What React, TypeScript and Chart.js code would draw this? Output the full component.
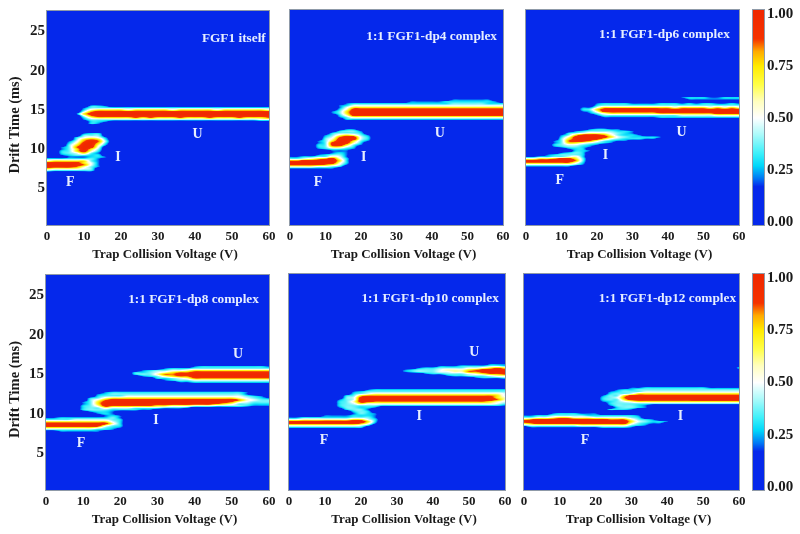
import React, { useEffect, useRef } from "react";
import { Chart, registerables } from "chart.js";

Chart.register(...registerables);

const voltages = [0,2,4,6,8,10,12,14,16,18,20,22,24,26,28,30,32,34,36,38,40,42,44,46,48,50,52,54,56,58,60];
const driftRows = [6.75,7,7.25,7.5,7.75,8,8.25,8.5,8.75,9,9.25,9.5,9.75,10,10.25,10.5,10.75,11,11.25,11.5,11.75,12,12.25,12.5,12.75,13,13.25,13.5,13.75,14,14.25,14.5,14.75,15,15.25,15.5,15.75,16,16.25,16.5,16.75];
const driftTicks = [5,10,15,20,25];
const voltageTicks = [0,10,20,30,40,50,60];
const barTicks = [0,0.25,0.5,0.75,1];
const barLevels = [0,0.17,0.21,0.27,0.33,0.42,0.5,0.58,0.66,0.75,0.82,0.88,1];
const barColors = [[5,40,235],[5,40,235],[0,120,245],[0,215,250],[60,240,250],[170,250,250],[255,255,255],[255,255,190],[255,255,70],[255,235,0],[255,170,0],[245,50,0],[240,40,0]];
// Each digit in the rows below stands for one of these intensities.
const digitLevels = [0,0.2,0.29,0.37,0.47,0.58,0.72,0.84,0.95,1];

// Intensity read per cell, columns = voltages, keyed by drift time.
const fgf1Rows: Record<number,string> = {
  15.5:"00000 02210",
  15.25:"00000 13333 33333 33333 33333 33333 3",
  15:"00000 25666 65666 66566 66656 66666 5",
  14.75:"00000 47888 88888 88888 88888 88888 8",
  14.5:"00001 68999 99999 99999 99999 99999 9",
  14.25:"00000 47888 88888 88888 88888 88888 8",
  14:"00000 25666 66767 66676 66766 67666 7",
  13.75:"00000 13333 33333 33333 33333 33334 4",
  13.5:"00000 02210",
  13.25:"00000 0210",
  12:"00000 1220",
  11.75:"00000 3330",
  11.5:"00002 45410",
  11.25:"00003 67620",
  11:"00014 79730",
  10.75:"00025 89620",
  10.5:"00036 99510",
  10.25:"00137 98400",
  10:"00136 96300",
  9.75:"00236 85200",
  9.5:"00234 63100",
  9.25:"00123 32200",
  9:"00011 12210",
  8.75:"33333 33100",
  8.5:"56666 63100",
  8.25:"88888 64100",
  8:"99998 74100",
  7.75:"88887 53100",
  7.5:"65555 43000",
  7.25:"32222 22000",
};
const dp4Rows: Record<number,string> = {
  16.25:"00000 00000 00000 00000 00011 11110",
  16:"00000 00000 00000 00111 11222 22221 0",
  15.75:"00000 00012 22222 22222 22233 33322 2",
  15.5:"00000 00124 44444 44444 44444 44444 4",
  15.25:"00000 00146 66666 66666 66666 66666 6",
  15:"00000 00258 88888 88888 88888 88888 8",
  14.75:"00000 01369 99999 99999 99999 99999 9",
  14.5:"00000 01369 99999 99999 99999 99999 9",
  14.25:"00000 00258 88888 88888 88888 88888 8",
  14:"00000 00135 55555 55555 55555 55555 5",
  13.75:"00000 00022 22222 22222 22222 22222 2",
  12.5:"00000 00011",
  12.25:"00000 00233 1",
  12:"00000 02333 2",
  11.75:"00000 13565 31",
  11.5:"00000 24788 42",
  11.25:"00000 35899 42",
  11:"00001 36996 31",
  10.75:"00001 38985 2",
  10.5:"00002 38963 1",
  10.25:"00002 36642",
  10:"00001 23321",
  9.75:"00000 01110",
  9.5:"00000 01210",
  9.25:"00001 23310",
  9:"11223 35410",
  8.75:"33456 78520",
  8.5:"77889 99620",
  8.25:"99999 99520",
  8:"88888 76410",
  7.75:"55554 43200",
  7.5:"11111 11000",
};
const dp6Rows: Record<number,string> = {
  16.5:"00000 00000 00000 00000 00122 21122 2",
  16.25:"00000 00000 00000 00000 00011 11111 1",
  15.75:"00000 00000 12222 11112 22121 22112 1",
  15.5:"00000 00000 23333 33333 33333 33333 3",
  15.25:"00000 00011 46666 66666 65666 65656 5",
  15:"00000 00023 68999 99998 88888 88888 8",
  14.75:"00000 00012 58888 88889 99999 99999 9",
  14.5:"00000 00001 35666 66667 77777 77888 8",
  14.25:"00000 00000 13333 33333 33444 44555 5",
  14:"00000 00000 01111 11112 22222 22222 2",
  12.5:"00000 00001 2211",
  12.25:"00000 00123 33322 1",
  12:"00000 02345 55432 1",
  11.75:"00000 13688 87532 21",
  11.5:"00000 25899 98643 22221",
  11.25:"00000 36899 86432 2211",
  11:"00001 37887 53211",
  10.75:"00001 36654 321",
  10.5:"00002 34432 1",
  10.25:"00001 23321",
  10:"00000 01220",
  9.75:"00000 00221",
  9.5:"00000 12320",
  9.25:"00012 33320",
  9:"11223 34520",
  8.75:"55667 88630",
  8.5:"99999 99730",
  8.25:"77777 77520",
  8:"44444 44310",
  7.75:"11111 11000",
};
const dp8Rows: Record<number,string> = {
  16:"00000 00000 00000 00000 12222 22222 1",
  15.75:"00000 00000 00000 01222 33333 33333 3",
  15.5:"00000 00000 00012 33445 66666 66666 6",
  15.25:"00000 00000 00223 45677 88888 88888 8",
  15:"00000 00000 00233 57788 99999 99999 9",
  14.75:"00000 00000 00012 35677 99999 99999 9",
  14.5:"00000 00000 00000 22345 77777 77777 7",
  14.25:"00000 00000 00000 01233 44444 44444 4",
  14:"00000 00000 00000 00011 22222 22222 2",
  12.75:"00000 00012 22222 22222 22222 221",
  12.5:"00000 00123 33333 33333 33333 33100",
  12.25:"00000 00233 34444 44444 44444 44321",
  12:"00000 02356 66666 66666 66666 65432 1",
  11.75:"00000 03578 88888 88889 99999 97543 3",
  11.5:"00000 13689 99999 99999 99998 75433 3",
  11.25:"00000 13699 99998 88888 88876 53322 2",
  11:"00000 23587 77777 66555 44433 33211 1",
  10.75:"00000 23354 44333 32221",
  10.5:"00000 23332 22211",
  10.25:"00000 01221",
  10:"00000 00121",
  9.75:"00000 00012 1",
  9.5:"11222 22223 1",
  9.25:"33334 44443 2",
  9:"66666 66664 2",
  8.75:"99999 99985 2",
  8.5:"99999 99953 2",
  8.25:"66666 66532 1",
  8:"33333 33221",
  7.75:"00111 11100",
};
const dp10Rows: Record<number,string> = {
  16.25:"00000 00000 00000 00000 00000 00011 1",
  16:"00000 00000 00000 00000 01112 22233 2",
  15.75:"00000 00000 00000 00012 23333 44567 6",
  15.5:"00000 00000 00000 01233 34555 67899 8",
  15.25:"00000 00000 00000 01233 34455 77899 9",
  15:"00000 00000 00000 00001 22333 45677 8",
  14.75:"00000 00000 00000 00000 00122 33345 5",
  14.5:"00000 00000 00000 00000 00000 01222 3",
  13:"00000 00000 01222 22222 22222 22222 2",
  12.75:"00000 00001 23333 33333 33333 33333 3",
  12.5:"00000 00002 34555 55555 55555 55555 4",
  12.25:"00000 00023 67777 77777 77777 77776 4",
  12:"00000 00034 89999 99999 99999 99986 5",
  11.75:"00000 00134 99999 99999 99999 99997 5",
  11.5:"00000 00235 88777 77777 77777 77765 4",
  11.25:"00000 00234 65555 55555 55555 55554 3",
  11:"00000 00233 33322 22222 22222 22222 1",
  10.75:"00000 00133 22100",
  10.5:"00000 00023 31",
  10.25:"00000 00002 32",
  10:"00000 00001 321",
  9.75:"00000 11112 221",
  9.5:"11222 22223 331",
  9.25:"44555 55556 642",
  9:"88888 99999 962",
  8.75:"88888 88888 751",
  8.5:"55555 55555 42",
  8.25:"22222 22222 2",
};
const dp12Rows: Record<number,string> = {
  15.75:"00000 00000 00000 00000 00000 00000 2",
  13.25:"00000 00000 00000 11222 22222 21111 1",
  13:"00000 00000 00012 23333 33333 33333 3",
  12.75:"00000 00000 00123 33444 44444 44444 4",
  12.5:"00000 00000 00233 46666 66666 66666 6",
  12.25:"00000 00000 01336 88888 88888 88888 8",
  12:"00000 00000 02347 99999 99999 99999 9",
  11.75:"00000 00000 02336 88888 88889 99999 9",
  11.5:"00000 00000 01234 56666 66666 66666 6",
  11.25:"00000 00000 00233 33333 33333 33333 3",
  11:"00000 00000 00133 32100",
  10.75:"00000 00000 00023 32100",
  10.5:"00000 00000 00222 1",
  10:"00001 22211 1",
  9.75:"11223 33332 22222 21",
  9.5:"33445 66555 44444 32",
  9.25:"67889 99988 88777 5321",
  9:"89999 99999 99999 64322 1",
  8.75:"67888 88888 88888 53211",
  8.5:"34444 44455 55555 321",
  8.25:"01111 11111 12222 1",
};

const panelTitles = ["FGF1 itself","1:1 FGF1-dp4 complex","1:1 FGF1-dp6 complex","1:1 FGF1-dp8 complex","1:1 FGF1-dp10 complex","1:1 FGF1-dp12 complex"];
const panelRows = [fgf1Rows,dp4Rows,dp6Rows,dp8Rows,dp10Rows,dp12Rows];
// [text, voltage, drift]
const panelLabels: [string,number,number][][] = [
  [["FGF1 itself",50.5,24.1],["F",6.3,5.75],["I",19.2,8.9],["U",40.7,11.9]],
  [["1:1 FGF1-dp4 complex",39.9,24.25],["F",7.9,5.75],["I",20.8,8.9],["U",42.2,11.9]],
  [["1:1 FGF1-dp6 complex",39.0,24.45],["F",9.5,6.05],["I",22.4,9.2],["U",43.8,12.1]],
  [["1:1 FGF1-dp8 complex",39.7,24.45],["F",9.4,6.26],["I",29.6,9.2],["U",51.7,17.55]],
  [["1:1 FGF1-dp10 complex",39.2,24.5],["F",9.7,6.6],["I",36.2,9.65],["U",51.5,17.77]],
  [["1:1 FGF1-dp12 complex",40.0,24.5],["F",17,6.6],["I",43.7,9.65]],
];

const SERIF = '"Liberation Serif", serif';
const INK = "#1a1a1a";
const EDGE = "#8f9aa8";

type Box = { left:number; top:number; width:number; height:number; yAxis:boolean };
const panelBoxes: Box[] = [
  { left:47, top:10, width:222, height:215, yAxis:true },
  { left:282, top:10, width:221, height:215, yAxis:false },
  { left:518, top:10, width:221, height:215, yAxis:false },
  { left:46, top:274, width:223, height:216, yAxis:true },
  { left:281, top:274, width:224, height:216, yAxis:false },
  { left:516, top:274, width:223, height:216, yAxis:false },
];
const barBoxes = [
  { left:753, top:10, width:11, height:215 },
  { left:753, top:274, width:11, height:216 },
];

function colorAt(v:number):number[] {
  const t = Math.max(0, Math.min(1, v));
  for (let i = 1; i < barLevels.length; i++) {
    if (t <= barLevels[i]) {
      const f = (t - barLevels[i-1]) / (barLevels[i] - barLevels[i-1] || 1);
      const a = barColors[i-1], b = barColors[i];
      return [a[0]+(b[0]-a[0])*f, a[1]+(b[1]-a[1])*f, a[2]+(b[2]-a[2])*f];
    }
  }
  return barColors[barColors.length-1];
}

function cellsFor(rows:Record<number,string>) {
  const cells:{x:number;y:number;v:number}[] = [];
  driftRows.forEach((d) => {
    const row = (rows[d] || "").replace(/ /g,"").padEnd(voltages.length,"0");
    voltages.forEach((x,i) => cells.push({ x, y:d, v:digitLevels[Number(row[i])] }));
  });
  return cells;
}

function cubic(a:number,b:number,c:number,d:number,t:number) {
  return b + 0.5*t*(c-a + t*(2*a-5*b+4*c-d + t*(3*(b-c)+d-a)));
}

const heatPlugin = {
  id:"heat",
  beforeDatasetsDraw(chart:any) {
    const { ctx, chartArea:a, scales } = chart;
    const w = Math.round(a.right-a.left), h = Math.round(a.bottom-a.top);
    const off = document.createElement("canvas");
    off.width = w; off.height = h;
    const octx = off.getContext("2d")!;
    const img = octx.createImageData(w,h);
    const cells = chart.data.datasets[0].data;
    const nx = voltages.length, ny = driftRows.length;
    const dx = voltages[1]-voltages[0], dy = driftRows[1]-driftRows[0];
    const at = (i:number,j:number) => {
      if (j < 0 || j >= ny) return 0;
      const c = Math.max(0,Math.min(nx-1,i));
      return cells[j*nx+c].v;
    };
    for (let py=0; py<h; py++) {
      const dv = scales.y.getValueForPixel(a.top+py+0.5);
      const fy = (dv-driftRows[0])/dy; const j = Math.floor(fy); const ty = fy-j;
      for (let px=0; px<w; px++) {
        const vv = scales.x.getValueForPixel(a.left+px+0.5);
        const fx = (vv-voltages[0])/dx; const i = Math.floor(fx); const tx = fx-i;
        const col = (n:number) => cubic(at(i-1,n),at(i,n),at(i+1,n),at(i+2,n),tx);
        const v = cubic(col(j-1),col(j),col(j+1),col(j+2),ty);
        const c = colorAt(v); const k=(py*w+px)*4;
        img.data[k]=c[0]; img.data[k+1]=c[1]; img.data[k+2]=c[2]; img.data[k+3]=255;
      }
    }
    octx.putImageData(img,0,0);
    ctx.save();
    ctx.beginPath(); ctx.rect(a.left,a.top,w,h); ctx.clip();
    ctx.fillStyle = "rgb(5,40,235)"; ctx.fillRect(a.left,a.top,w,h);
    ctx.filter = "blur(0.6px)";
    ctx.drawImage(off,a.left,a.top);
    ctx.restore();
  },
  afterDatasetsDraw(chart:any) {
    const { ctx, chartArea:a, scales } = chart;
    ctx.save();
    ctx.strokeStyle = EDGE; ctx.lineWidth = 1;
    ctx.strokeRect(a.left-0.5,a.top-0.5,a.right-a.left+1,a.bottom-a.top+1);
    ctx.textAlign = "center"; ctx.textBaseline = "middle";
    ctx.fillStyle = "#e6eeff";
    const labels = chart.options.plugins.heat.labels as [string,number,number][];
    labels.forEach(([t,x,y]) => {
      ctx.font = t.length>1 ? `bold 13.3px ${SERIF}` : `bold 14px ${SERIF}`;
      ctx.fillText(t, scales.x.getPixelForValue(x), scales.y.getPixelForValue(y));
    });
    ctx.restore();
  },
};

const barPlugin = {
  id:"colorbar",
  beforeDatasetsDraw(chart:any) {
    const { ctx, chartArea:a, scales } = chart;
    for (let py=Math.round(a.top); py<Math.round(a.bottom); py++) {
      const c = colorAt(scales.y.getValueForPixel(py+0.5));
      ctx.fillStyle = `rgb(${c[0]},${c[1]},${c[2]})`;
      ctx.fillRect(a.left,py,a.right-a.left,1);
    }
    ctx.strokeStyle = EDGE; ctx.lineWidth = 1;
    ctx.strokeRect(a.left-0.5,a.top-0.5,a.right-a.left+1,a.bottom-a.top+1);
  },
};

function shiftTitle(ax:any, dx:number, dy:number) {
  if (ax.$shifted) return;
  ax.$shifted = true;
  const draw = ax.drawTitle;
  ax.drawTitle = function () {
    this.ctx.save();
    this.ctx.translate(dx,dy);
    draw.call(this);
    this.ctx.restore();
  };
}

function App() {
  const holder = useRef<HTMLDivElement>(null);
  useEffect(() => {
    const charts:Chart[] = [];
    const host = holder.current!;
    panelBoxes.forEach((b,idx) => {
      const marginLeft = b.yAxis ? b.left : 8;
      const axisH = 44;
      const canvas = document.createElement("canvas");
      const top = b.top < 100 ? 0 : 264;
      const marginTop = b.top-top;
      canvas.width = marginLeft+b.width+14;
      canvas.height = marginTop+b.height+axisH;
      canvas.style.cssText = `position:absolute;display:block;left:${b.left-marginLeft}px;top:${top}px;width:${canvas.width}px;height:${canvas.height}px`;
      host.appendChild(canvas);
      charts.push(new Chart(canvas,{
        type:"scatter",
        data:{ datasets:[{ label:panelTitles[idx], data:cellsFor(panelRows[idx]) as any, pointRadius:0, pointHitRadius:0 }] },
        plugins:[heatPlugin],
        options:{
          responsive:false, animation:false, events:[],
          layout:{ autoPadding:false, padding:{ left:b.yAxis?0:marginLeft, top:marginTop, right:14, bottom:0 } },
          plugins:{ legend:{display:false}, tooltip:{enabled:false}, heat:{ labels:panelLabels[idx] } } as any,
          scales:{
            x:{
              type:"linear", min:0, max:60,
              afterBuildTicks:(ax:any)=>{ ax.ticks = voltageTicks.map(value=>({value})); },
              afterFit:(ax:any)=>{ ax.height = axisH; shiftTitle(ax,7,-7); },
              grid:{display:false,drawTicks:false}, border:{display:false},
              ticks:{ color:INK, padding:4, maxRotation:0, autoSkip:false, font:{family:SERIF,weight:"bold",size:13} },
              title:{ display:true, text:"Trap Collision Voltage (V)", color:INK, padding:{top:8,bottom:0}, font:{family:SERIF,weight:"bold",size:13} },
            },
            y:{
              type:"linear", min:0.35, max:27.6, display:b.yAxis,
              afterBuildTicks:(ax:any)=>{ ax.ticks = driftTicks.map(value=>({value})); },
              afterFit:(ax:any)=>{ ax.width = marginLeft; shiftTitle(ax,1,7); },
              grid:{display:false,drawTicks:false}, border:{display:false},
              ticks:{ color:INK, padding:2, font:{family:SERIF,weight:"bold",size:15} },
              title:{ display:true, text:"Drift Time (ms)", color:INK, padding:{top:6,bottom:0}, font:{family:SERIF,weight:"bold",size:14.5} },
            },
          },
        } as any,
      }));
    });
    barBoxes.forEach((b) => {
      const canvas = document.createElement("canvas");
      const margin = 14; const rightW = 34;
      canvas.width = 4+b.width+rightW;
      canvas.height = b.height+margin*2;
      canvas.style.cssText = `position:absolute;display:block;left:${b.left-4}px;top:${b.top-margin}px;width:${canvas.width}px;height:${canvas.height}px`;
      host.appendChild(canvas);
      charts.push(new Chart(canvas,{
        type:"scatter",
        data:{ datasets:[{ label:"scale", data:barLevels.map(y=>({x:0,y})), pointRadius:0, pointHitRadius:0 }] },
        plugins:[barPlugin],
        options:{
          responsive:false, animation:false, events:[],
          layout:{ autoPadding:false, padding:{ left:4, top:margin, right:0, bottom:margin } },
          plugins:{ legend:{display:false}, tooltip:{enabled:false} },
          scales:{
            x:{ type:"linear", display:false, min:-1, max:1 },
            y:{
              type:"linear", position:"right", min:-0.0144, max:1.019,
              afterBuildTicks:(ax:any)=>{ ax.ticks = barTicks.map(value=>({value})); },
              afterFit:(ax:any)=>{ ax.width = rightW; },
              grid:{display:false,drawTicks:false}, border:{display:false},
              ticks:{ color:INK, padding:3, font:{family:SERIF,weight:"bold",size:15}, callback:(v:any)=>Number(v).toFixed(2) },
            },
          },
        } as any,
      }));
    });
    return () => {
      charts.forEach(c=>{ const el=c.canvas; c.destroy(); el.remove(); });
    };
  },[]);
  return <div ref={holder} style={{position:"absolute",left:0,top:0,width:800,height:534,background:"#fff",overflow:"hidden"}} />;
}

export default App;
